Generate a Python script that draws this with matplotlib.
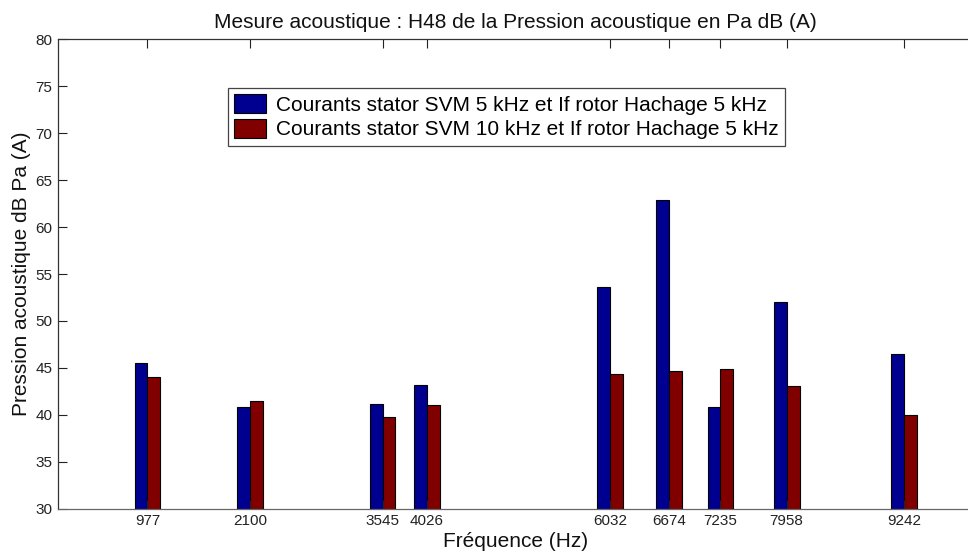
import matplotlib
matplotlib.use("Agg")
import matplotlib.pyplot as plt
import numpy as np

plt.rcParams['font.family'] = ['Liberation Sans', 'DejaVu Sans']

# Fréquences des harmoniques mesurées (Hz)
frequences = [977, 2100, 3545, 4026, 6032, 6674, 7235, 7958, 9242]
# Pression acoustique dB Pa (A)
svm_5khz = [45.5, 40.8, 41.1, 43.2, 53.6, 62.9, 40.8, 52.0, 46.5]
svm_10khz = [44.0, 41.5, 39.8, 41.0, 44.4, 44.7, 44.9, 43.1, 40.0]

labels = ["Courants stator SVM 5 kHz et If rotor Hachage 5 kHz",
          "Courants stator SVM 10 kHz et If rotor Hachage 5 kHz"]
couleurs = ["#000090", "#800000"]

fig = plt.figure(figsize=(9.68, 5.52), dpi=100)
ax = fig.add_axes([58 / 968, 1 - 508.7 / 552, (973.6 - 58) / 968, (508.7 - 39.3) / 552])

x = np.array(frequences, dtype=float)
largeur = 141
base = 30
ax.bar(x - largeur / 2, np.array(svm_5khz) - base, width=largeur, bottom=base,
       color=couleurs[0], edgecolor="black", linewidth=0.8, label=labels[0])
ax.bar(x + largeur / 2, np.array(svm_10khz) - base, width=largeur, bottom=base,
       color=couleurs[1], edgecolor="black", linewidth=0.8, label=labels[1])

ax.set_xlim(0, 10000)
ax.set_ylim(30, 80)
ax.set_xticks(frequences)
ax.set_xticklabels([str(f) for f in frequences])
ax.set_yticks(np.arange(30, 81, 5))

ax.tick_params(axis="both", direction="in", labelsize=11, colors="#222222",
               length=6.5, width=0.8)
ax.tick_params(axis="x", top=True, pad=4)
ax.tick_params(axis="y", pad=4)
for side in ["top", "bottom", "left"]:
    ax.spines[side].set_color("#333333")
    ax.spines[side].set_linewidth(0.9)
ax.spines["bottom"].set_color("#666666")
ax.spines["right"].set_visible(False)

ax.set_title("Mesure acoustique : H48 de la Pression acoustique en Pa dB (A)",
             fontsize=15, pad=8, color="#111111")
ax.set_xlabel("Fréquence (Hz)", fontsize=15, labelpad=3, color="#111111")
ax.set_ylabel("Pression acoustique dB Pa (A)", fontsize=15, labelpad=3, color="#111111")

leg = ax.legend(loc="upper left", bbox_to_anchor=(228 / 968, 1 - 88 / 552),
                bbox_transform=fig.transFigure, fontsize=15, frameon=True,
                fancybox=False, edgecolor="#444444", framealpha=1,
                handlelength=1.5, handleheight=1.0, handletextpad=0.5,
                borderpad=0.3, labelspacing=0.2, borderaxespad=0)
leg.get_frame().set_linewidth(0.9)

fig.savefig("out.png", dpi=100)
